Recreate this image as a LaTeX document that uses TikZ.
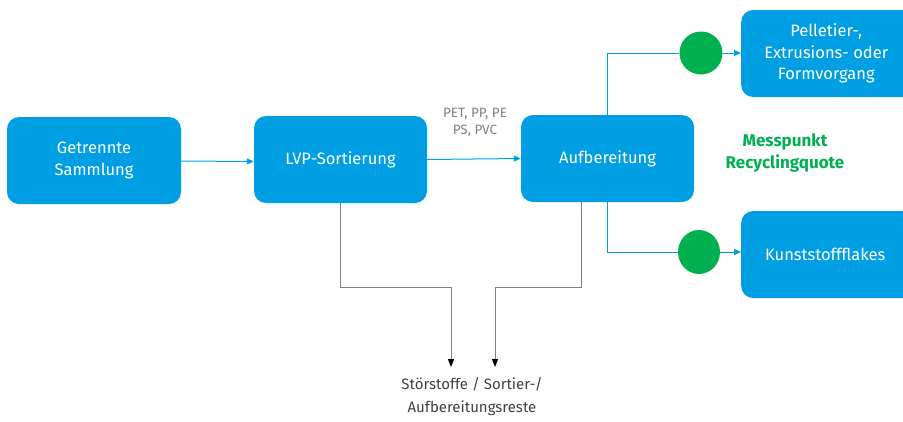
\documentclass[tikz,border=0pt]{standalone}
\usepackage{fontspec}
\setmainfont{Fira Sans}
\usetikzlibrary{arrows.meta,shapes.geometric}
\definecolor{boxblue}{HTML}{009FE3}
\definecolor{mgreen}{HTML}{00B050}
\definecolor{lgray}{HTML}{808080}
\begin{document}
\begin{tikzpicture}[x=1pt,y=-1pt,
  procbox/.style={draw=none,fill=boxblue,rounded corners=12pt,text=white,align=center,
    font=\fontsize{16.5}{21.5}\selectfont,inner sep=0pt},
  flow/.style={draw=boxblue,line width=1pt,-{Triangle[length=7pt,width=6pt]}},
  plainflow/.style={draw=boxblue,line width=1pt},
  rest/.style={draw=lgray,line width=1pt,-{Triangle[length=8pt,width=6pt,color=black]}},
  mpoint/.style={ellipse,fill=mgreen,minimum size=43pt,inner sep=0pt}]
\useasboundingbox (0,0) rectangle (903,421);
\node[procbox,minimum width=174pt,minimum height=87pt] (gs) at (94,160.5) {Getrennte\\Sammlung};
\node[procbox,minimum width=173pt,minimum height=87pt] (lvp) at (340.5,159.5) {LVP-Sortierung};
\node[procbox,minimum width=173pt,minimum height=87pt] (auf) at (607.5,158.5) {Aufbereitung};
\node[procbox,minimum width=174pt,minimum height=87pt,anchor=west] (pel) at (741,53.5) {\hspace*{-4pt}Pelletier-,\\\hspace*{-4pt}Extrusions- oder\\\hspace*{-4pt}Formvorgang};
\node[procbox,minimum width=174pt,minimum height=87pt,anchor=west] (kf) at (741,254.5) {\hspace*{-6pt}Kunststoffflakes};
\node[mpoint] (m1) at (701,53) {};
\node[mpoint,minimum height=44pt,minimum width=42pt] (m2) at (699,252) {};
\node[text=lgray,align=center,font=\fontsize{13.5}{17}\selectfont] (lab) at (475,122) {PET, PP, PE\\PS, PVC};
\node[text=mgreen,align=center,font=\fontsize{17}{22}\selectfont\bfseries] (mp) at (785,153) {Messpunkt\\Recyclingquote};
\node[text=black!75,align=center,font=\fontsize{15}{23}\selectfont] (rs) at (472,397) {Störstoffe / Sortier-/\\Aufbereitungsreste};
\coordinate (t1) at (451,367);
\coordinate (t2) at (495,367);
\draw[flow] (gs.east) ++(0,0.5) -- ([yshift=-2pt]lvp.west);
\draw[flow] (lvp.east) -- (auf.west);
\draw[plainflow] (auf.north) -- (auf.north |- m1) -- (m1.west);
\draw[flow] (m1.east) -- (pel.west |- m1);
\draw[plainflow] (auf.south) -- (auf.south |- m2) -- (m2.west);
\draw[flow] (m2.east) -- (kf.west |- m2);
\draw[rest] (lvp.south) -- (340.5,287) -- (451,287) -- (t1);
\draw[rest] (581,202) -- (581,287) -- (495,287) -- (t2);
\end{tikzpicture}
\end{document}
